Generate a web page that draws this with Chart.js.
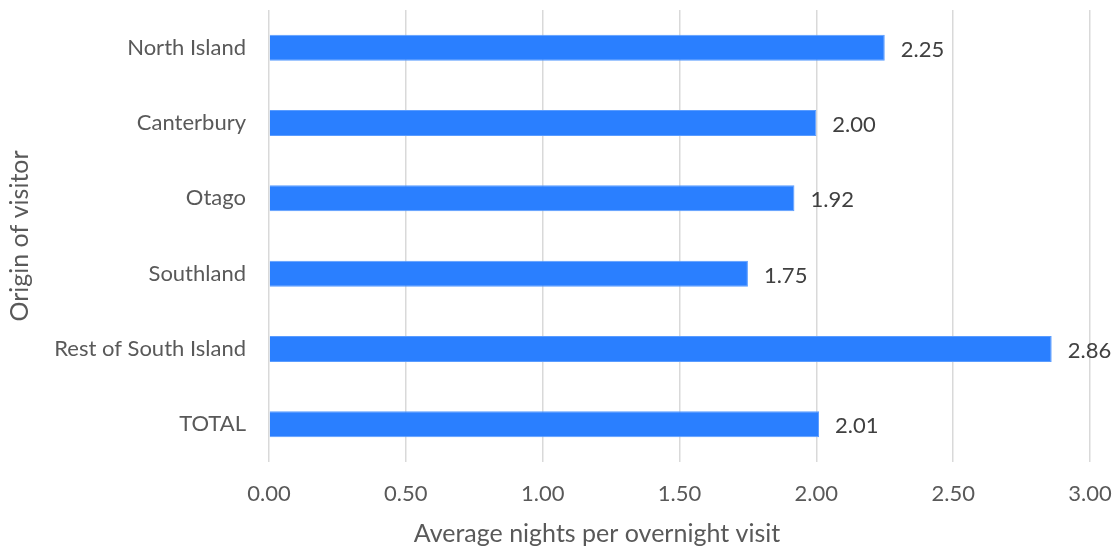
<!DOCTYPE html>
<html><head><meta charset="utf-8">
<script src="https://cdn.jsdelivr.net/npm/chart.js@4/dist/chart.umd.min.js"></script>
<style>html,body{margin:0;padding:0;background:#fff}#wrap{width:1117px;height:549px}</style>
</head><body><div id="wrap"><canvas id="c" width="1117" height="549"></canvas></div>
<script>
const categories = ["North Island", "Canterbury", "Otago", "Southland", "Rest of South Island", "TOTAL"];
const values = [2.25, 2.00, 1.92, 1.75, 2.86, 2.01];
const xTicks = [0, 0.5, 1, 1.5, 2, 2.5, 3];
const xTitle = "Average nights per overnight visit";
const yTitle = "Origin of visitor";
const FONT = "Lato, 'Open Sans', sans-serif";

const valueLabels = {
  id: 'valueLabels',
  afterDatasetsDraw(chart) {
    const ctx = chart.ctx;
    const meta = chart.getDatasetMeta(0);
    ctx.save();
    ctx.font = "22px " + FONT;
    ctx.fillStyle = "#404040";
    ctx.textAlign = "left";
    ctx.textBaseline = "middle";
    meta.data.forEach((bar, i) => {
      ctx.fillText(values[i].toFixed(2), bar.x + 16, bar.y + 2);
    });
    ctx.restore();
  }
};

// x-axis title, placed as in the reference (left of the plot-area centre)
const xAxisTitle = {
  id: 'xAxisTitle',
  afterDraw(chart) {
    const ctx = chart.ctx;
    ctx.save();
    ctx.font = "25px " + FONT;
    ctx.fillStyle = "#595959";
    ctx.textAlign = "center";
    ctx.textBaseline = "middle";
    ctx.fillText(xTitle, chart.chartArea.left + 328, chart.height - 15);
    ctx.restore();
  }
};

new Chart(document.getElementById('c'), {
  type: 'bar',
  data: { labels: categories, datasets: [{ data: values, backgroundColor: '#2a7fff', borderColor: '#5a9cff', borderWidth: 1, categoryPercentage: 1, barPercentage: 0.345 }] },
  plugins: [valueLabels, xAxisTitle],
  options: {
    indexAxis: 'y',
    responsive: false,
    animation: false,
    layout: { padding: { top: 10, right: 27, bottom: 0, left: 0 } },
    plugins: { legend: { display: false }, tooltip: { enabled: false } },
    scales: {
      x: {
        min: 0, max: 3,
        afterBuildTicks(s) { s.ticks = xTicks.map(v => ({ value: v })); },
        afterFit(s) { s.height = 87; s.paddingLeft = 0; s.paddingRight = 0; },
        grid: { color: '#d9d9d9', lineWidth: 1.5, drawTicks: false },
        border: { display: false },
        ticks: { padding: 19, color: '#595959', font: { family: FONT, size: 22 }, callback: v => Number(v).toFixed(2) },
        title: { display: false }
      },
      y: {
        afterFit(s) { s.width = 269; s.paddingTop = 0; s.paddingBottom = 0; },
        grid: { display: false, drawTicks: false },
        border: { display: false },
        ticks: { padding: 23, color: '#595959', font: { family: FONT, size: 22 } },
        title: { display: true, text: yTitle, color: '#595959', font: { family: FONT, size: 25 }, padding: { top: 5, bottom: 0 } }
      }
    }
  }
});
</script></body></html>
